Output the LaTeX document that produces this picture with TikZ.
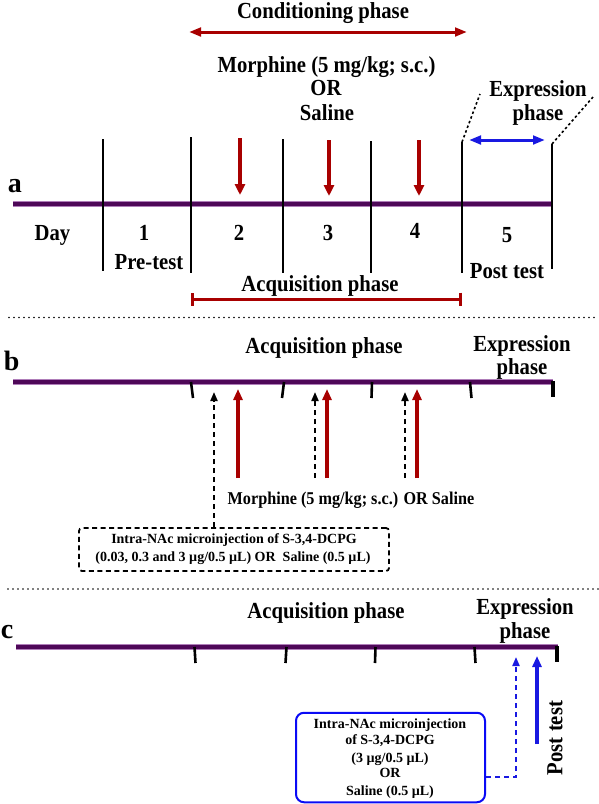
\documentclass[tikz,border=0pt]{standalone}
\usepackage{fontspec}
\setmainfont{Liberation Serif}
\newfontfamily\condfont[FakeStretch=0.9]{Liberation Serif}
\usetikzlibrary{arrows.meta}
\definecolor{tlpurple}{RGB}{78,8,88}
\definecolor{tledge}{RGB}{175,125,185}
\definecolor{dred}{RGB}{168,0,0}
\definecolor{dblue}{RGB}{25,25,225}
\definecolor{bblue}{RGB}{10,10,245}
\begin{document}
\begin{tikzpicture}[x=1pt,y=-1pt,
  lbl/.style={font=\condfont\bfseries\fontsize{23}{26}\selectfont, inner sep=0pt, outer sep=0pt, anchor=base},
  mid/.style={font=\condfont\bfseries\fontsize{18}{20}\selectfont, inner sep=0pt, outer sep=0pt, anchor=base},
  small/.style={font=\bfseries\fontsize{14}{17}\selectfont, inner sep=0pt, outer sep=0pt, anchor=base},
  panel/.style={font=\bfseries\fontsize{28}{30}\selectfont, inner sep=0pt, outer sep=0pt, anchor=base west},
  tlback/.style={line width=5.5pt, draw=tledge},
  tlfront/.style={line width=3.8pt, draw=tlpurple},
  dayline/.style={line width=2.5pt, draw=black},
  tick/.style={line width=2.6pt, draw=black},
  endtick/.style={line width=4pt, draw=black},
  redarrow/.style={line width=4pt, draw=dred, -{Triangle[width=10pt,length=11pt]}},
  redup/.style={line width=3.6pt, draw=dred, -{Triangle[width=9pt,length=11pt]}},
  blackdash/.style={line width=2pt, draw=black, dash pattern=on 5pt off 4pt, -{Triangle[width=7pt,length=9pt]}},
  twohead/.style={line width=3pt, {Triangle[width=8.5pt,length=12pt]}-{Triangle[width=8.5pt,length=12pt]}},
  barline/.style={line width=3pt, draw=dred, {Bar[width=13pt,line width=3pt]}-{Bar[width=13pt,line width=3pt]}},
  separator/.style={line width=1.8pt, draw=black, line cap=round, dash pattern=on 0pt off 5pt},
  exprdots/.style={line width=1.6pt, draw=black, dash pattern=on 2.5pt off 2.5pt},
]
\useasboundingbox (0,0) rectangle (598,804);

% ---------------- panel a ----------------
\node[lbl] (condtxt) at (323,18) {Conditioning phase};
\coordinate (condL) at (189,32);
\coordinate (condR) at (467,32);
\draw[twohead, draw=dred] (condL) -- (condR);

\node[lbl] (morphA) at (326.5,72) {Morphine (5 mg/kg; s.c.)};
\node[lbl] (orA) at (326,95) {OR};
\node[lbl] (salA) at (327,120) {Saline};

\node[lbl] (exprA) at (538,96) {Expression};
\node[lbl] (phaseA) at (538,120) {phase};

\node[panel] (pa) at (8,192) {a};

\coordinate (tlaL) at (13,204);
\coordinate (tlaR) at (552,204);
\draw[tlback] (tlaL) -- (tlaR);
\draw[tlfront] (tlaL) -- (tlaR);

\coordinate (v1t) at (103,139); \coordinate (v1b) at (103,271);
\coordinate (v2t) at (191,137); \coordinate (v2b) at (191,273);
\coordinate (v3t) at (283,139); \coordinate (v3b) at (283,273);
\coordinate (v4t) at (371,141); \coordinate (v4b) at (371,273);
\coordinate (v5t) at (462,142); \coordinate (v5b) at (462,273);
\coordinate (v6t) at (552,144); \coordinate (v6b) at (552,269);
\foreach \i in {1,...,6} {\draw[dayline] (v\i t) -- (v\i b);}

\coordinate (r1t) at (240,138); \coordinate (r1b) at (240,195);
\coordinate (r2t) at (329,140); \coordinate (r2b) at (329,196);
\coordinate (r3t) at (419,140); \coordinate (r3b) at (419,196);
\foreach \i in {1,2,3} {\draw[redarrow] (r\i t) -- (r\i b);}

\coordinate (exL) at (469,140);
\coordinate (exR) at (545,140);
\draw[twohead, draw=dblue] (exL) -- (exR);
\coordinate (dotL) at (480,94);
\coordinate (dotR) at (593,97);
\draw[exprdots] (v5t) -- (dotL);
\draw[exprdots] (v6t) -- (dotR);

\node[lbl] (day) at (52.5,240) {Day};
\node[lbl] (d1) at (144,240) {1};
\node[lbl] (d2) at (239,240) {2};
\node[lbl] (d3) at (328,240) {3};
\node[lbl] (d4) at (415,238) {4};
\node[lbl] (d5) at (507,242) {5};
\node[lbl] (pre) at (149,269) {Pre-test};
\node[lbl] (post) at (507,278) {Post test};
\node[lbl] (acqA) at (320,291) {Acquisition phase};

\coordinate (acqL) at (191,299);
\coordinate (acqR) at (462,299);
\draw[barline] (acqL) -- (acqR);

\coordinate (sep1L) at (9,317.5);
\coordinate (sep1R) at (598,317.5);
\draw[separator] (sep1L) -- (sep1R);

% ---------------- panel b ----------------
\node[panel] (pb) at (4,370) {b};
\node[lbl] (acqB) at (324,353) {Acquisition phase};
\node[lbl] (exprB) at (522,351) {Expression};
\node[lbl] (phaseB) at (522,374) {phase};

\coordinate (tlbL) at (13,382);
\coordinate (tlbR) at (553,382);
\draw[tlback] (tlbL) -- (tlbR);
\draw[tlfront] (tlbL) -- (tlbR);

\coordinate (bt1t) at (191,382); \coordinate (bt1b) at (193,398);
\coordinate (bt2t) at (284,382); \coordinate (bt2b) at (282,398);
\coordinate (bt3t) at (372,382); \coordinate (bt3b) at (371.5,398);
\coordinate (bt4t) at (470,382); \coordinate (bt4b) at (471.5,398);
\foreach \i in {1,...,4} {\draw[tick] (bt\i t) -- (bt\i b);}
\coordinate (bt5t) at (553,381); \coordinate (bt5b) at (553,397);
\draw[endtick] (bt5t) -- (bt5b);

\node[draw=black, line width=1.8pt, dash pattern=on 5pt off 3.5pt, rounded corners=3pt,
      minimum width=310pt, minimum height=43pt, inner sep=0pt] (bbox) at (234,549.5) {};
\node[small] (bboxl1) at (234,543) {Intra-NAc microinjection of S-3,4-DCPG};
\node[small] (bboxl2) at (233,561) {(0.03, 0.3 and 3 µg/0.5 µL) OR\ \ Saline (0.5 µL)};

\coordinate (bk1) at (214,392);
\coordinate (bk2t) at (315,392); \coordinate (bk2b) at (315,478);
\coordinate (bk3t) at (405,392); \coordinate (bk3b) at (405,478);
\draw[blackdash] (bk1 |- bbox.north) -- (bk1);
\draw[blackdash] (bk2b) -- (bk2t);
\draw[blackdash] (bk3b) -- (bk3t);

\coordinate (ru1t) at (238,389); \coordinate (ru1b) at (238,478);
\coordinate (ru2t) at (327,389); \coordinate (ru2b) at (327,478);
\coordinate (ru3t) at (417,389); \coordinate (ru3b) at (417,478);
\foreach \i in {1,2,3} {\draw[redup] (ru\i b) -- (ru\i t);}

\node[mid] (morphB) at (351,504) {Morphine (5 mg/kg; s.c.) OR Saline};

\coordinate (sep2L) at (8,589);
\coordinate (sep2R) at (598,589);
\draw[separator] (sep2L) -- (sep2R);

% ---------------- panel c ----------------
\node[panel] (pc) at (1,638) {c};
\node[lbl] (acqC) at (326,618) {Acquisition phase};
\node[lbl] (exprC) at (525,614) {Expression};
\node[lbl] (phaseC) at (525,638) {phase};

\coordinate (tlcL) at (16,647);
\coordinate (tlcR) at (558,647);
\draw[tlback] (tlcL) -- (tlcR);
\draw[tlfront] (tlcL) -- (tlcR);

\coordinate (ct1t) at (194.5,647); \coordinate (ct1b) at (195.5,663);
\coordinate (ct2t) at (286.5,647); \coordinate (ct2b) at (285.5,663);
\coordinate (ct3t) at (375.5,647); \coordinate (ct3b) at (375,663);
\coordinate (ct4t) at (474.5,647); \coordinate (ct4b) at (475.5,663);
\foreach \i in {1,...,4} {\draw[tick] (ct\i t) -- (ct\i b);}
\coordinate (ct5t) at (557,646); \coordinate (ct5b) at (557,662);
\draw[endtick] (ct5t) -- (ct5b);

\node[draw=bblue, line width=2pt, rounded corners=8pt,
      minimum width=189pt, minimum height=89.5pt, inner sep=0pt] (cbox) at (390.5,757.5) {};
\node[small] (cl1) at (390,728) {Intra-NAc microinjection};
\node[small] (cl2) at (390,744) {of S-3,4-DCPG};
\node[small] (cl3) at (390,762) {(3 µg/0.5 µL)};
\node[small] (cl4) at (390,777) {OR};
\node[small] (cl5) at (390,795) {Saline (0.5 µL)};

\coordinate (cjoin) at (516,777);
\coordinate (ctip1) at (516,657);
\draw[line width=2pt, draw=dblue, dash pattern=on 5pt off 4pt, -{Triangle[width=7pt,length=9pt]}]
  (cjoin -| cbox.east) -- (cjoin) -- (ctip1);

\coordinate (cbt) at (537,656);
\coordinate (cbb) at (537,744);
\draw[line width=3.8pt, draw=dblue, -{Triangle[width=9pt,length=11pt]}] (cbb) -- (cbt);

\node[lbl, anchor=center, rotate=90] (postC) at (555,738) {Post test};
\end{tikzpicture}
\end{document}
